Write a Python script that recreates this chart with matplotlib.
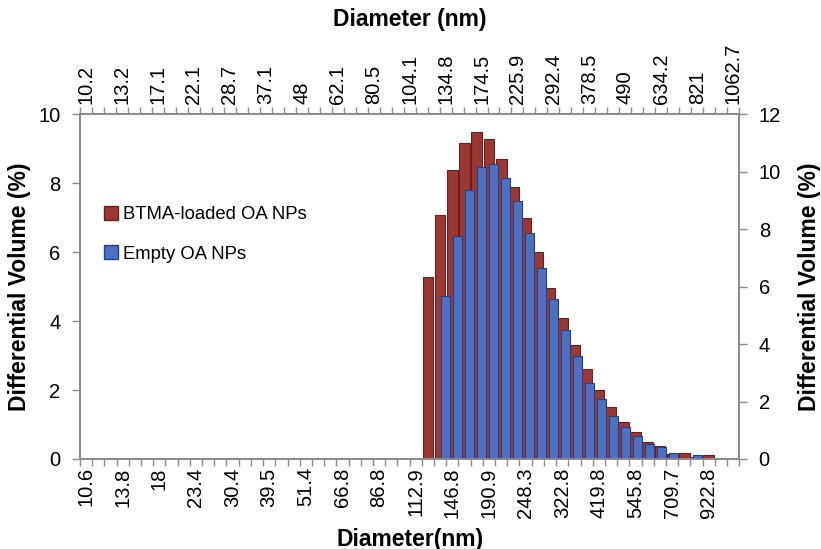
import matplotlib
matplotlib.use('Agg')
import matplotlib.pyplot as plt
import matplotlib.patches as mpatches
import numpy as np

plt.rcParams['font.family'] = ['Liberation Sans', 'DejaVu Sans']

# bottom axis bins (54 categories, a label every 3rd one)
bottom_labels = ['10.6', '13.8', '18', '23.4', '30.4', '39.5', '51.4', '66.8', '86.8',
                 '112.9', '146.8', '190.9', '248.3', '322.8', '419.8', '545.8', '709.7', '922.8']
n_bottom = 54

# top axis bins (55 categories, a label every 3rd one)
top_labels = ['10.2', '13.2', '17.1', '22.1', '28.7', '37.1', '48', '62.1', '80.5', '104.1',
              '134.8', '174.5', '225.9', '292.4', '378.5', '490', '634.2', '821', '1062.7']
n_top = 55

# BTMA-loaded OA NPs, left axis, bottom bins
red_vol = [0.0] * 28 + [5.28, 7.07, 8.38, 9.17, 9.47, 9.27, 8.69, 7.88, 6.98, 5.99,
                        4.97, 4.08, 3.30, 2.60, 1.99, 1.50, 1.08, 0.79, 0.50, 0.39,
                        0.15, 0.18, 0.05, 0.11, 0.0, 0.0]

# Empty OA NPs, right axis, top bins
blue_vol = [0.0] * 30 + [5.67, 7.76, 9.36, 10.17, 10.28, 9.79, 8.97, 7.87, 6.66, 5.57,
                         4.49, 3.58, 2.65, 2.08, 1.50, 1.10, 0.80, 0.51, 0.41, 0.20,
                         0.0, 0.13, 0.0, 0.0, 0.0]

red_fill, red_edge = '#9a3835', '#6a201e'
blue_fill, blue_edge = '#4d6fc0', '#263f86'
grey = '#8c8c8c'
tick_fs = 14.5
title_fs = 16.5
legend_fs = 13.3

fig = plt.figure(figsize=(8.21, 5.49), dpi=100)
ax = fig.add_axes([0.0974, 0.164, 0.803, 0.628])
ax_r = ax.twinx()
ax_t = ax_r.twiny()

ax.bar(np.arange(n_bottom), red_vol, width=0.88, color=red_fill, edgecolor=red_edge, linewidth=0.8)
ax_t.bar(np.arange(n_top), blue_vol, width=0.78, color=blue_fill, edgecolor=blue_edge, linewidth=0.8)

ax.set_xlim(-0.5, n_bottom - 0.5)
ax.set_ylim(0, 10)
ax_t.set_xlim(-0.5, n_top - 0.5)
ax_r.set_ylim(0, 12)

ax.set_yticks(np.arange(0, 11, 2))
ax_r.set_yticks(np.arange(0, 13, 2))

ax.set_xticks(np.arange(0, n_bottom, 3)[:len(bottom_labels)], bottom_labels, rotation=90)
ax.set_xticks(np.arange(-0.5, n_bottom, 1), minor=True)
ax_t.set_xticks(np.arange(0, n_top, 3)[:len(top_labels)], top_labels, rotation=90)
ax_t.set_xticks(np.arange(-0.5, n_top, 1), minor=True)

for a in (ax, ax_r, ax_t):
    for s in a.spines.values():
        s.set_color(grey)
        s.set_linewidth(1.2)
    a.tick_params(axis='both', which='both', colors=grey, labelcolor='black', labelsize=tick_fs, width=1)
ax.tick_params(axis='x', which='major', length=0, pad=6)
ax.tick_params(axis='x', which='minor', length=5)
ax_t.tick_params(axis='x', which='major', length=0, pad=7)
ax_t.tick_params(axis='x', which='minor', length=5)
ax.tick_params(axis='y', length=6, pad=8)
ax_r.tick_params(axis='y', length=6, pad=8)

ax.set_xlabel('Diameter(nm)', fontsize=title_fs, fontweight='bold', labelpad=7)
ax_t.set_xlabel('Diameter (nm)', fontsize=title_fs, fontweight='bold', labelpad=12)
ax.set_ylabel('Differential Volume (%)', fontsize=title_fs, fontweight='bold', labelpad=5)
ax_r.set_ylabel('Differential Volume (%)', fontsize=title_fs, fontweight='bold', labelpad=12)

red_patch = mpatches.Patch(facecolor=red_fill, edgecolor=red_edge, label='BTMA-loaded OA NPs')
blue_patch = mpatches.Patch(facecolor=blue_fill, edgecolor=blue_edge, label='Empty OA NPs')
ax_t.legend(handles=[red_patch, blue_patch], loc='upper left', bbox_to_anchor=(0.025, 0.755),
            frameon=False, fontsize=legend_fs, handlelength=0.75, handleheight=0.75,
            handletextpad=0.3, labelspacing=1.2, borderaxespad=0)

fig.savefig('out.png', dpi=100)
